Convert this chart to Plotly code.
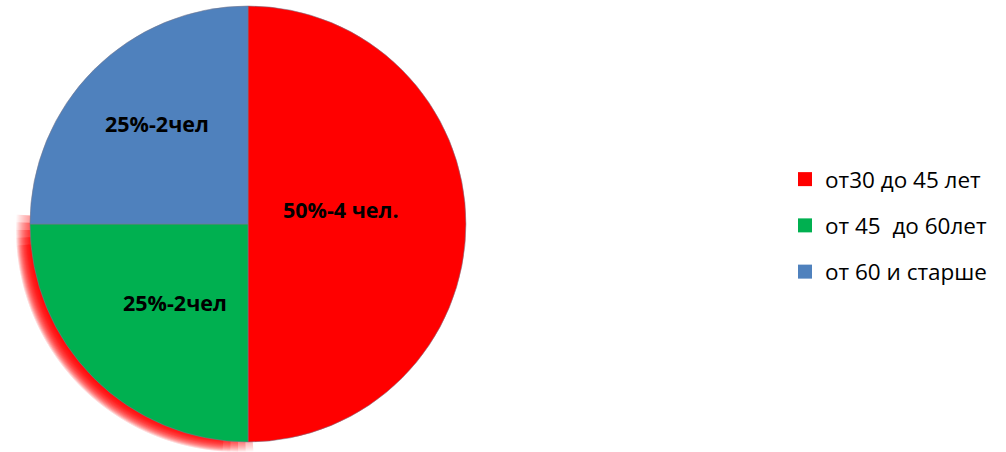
import plotly.graph_objects as go

categories = ["от30 до 45 лет", "от 45  до 60лет", "от 60 и старше"]
values = [4, 2, 2]
slice_labels = ["50%-4 чел.", "25%-2чел", "25%-2чел"]
colors = ["#FF0000", "#00B050", "#4F81BD"]

W, H = 1006, 452
cx, cy, r = 248, 224, 218

def dom(cx, cy, r):
    x0, x1 = max(0, (cx - r) / W), min(1, (cx + r) / W)
    y0, y1 = max(0, 1 - (cy + r) / H), min(1, 1 - (cy - r) / H)
    return dict(x=[x0, x1], y=[y0, y1])

fig = go.Figure()

# soft red glow behind the lower-left slice
glow_cx, glow_cy = cx - 10, cy + 6
for rr in range(208, 223):
    for rot in [-4, -2, 0, 2, 4]:
        fig.add_trace(go.Pie(
            values=values, labels=categories, sort=False, direction="clockwise", rotation=rot,
            marker=dict(colors=["rgba(0,0,0,0)", "rgba(255,0,0,0.032)", "rgba(0,0,0,0)"], line=dict(width=0)),
            textinfo="none", hoverinfo="skip", showlegend=False,
            domain=dom(glow_cx, glow_cy, rr),
        ))

fig.add_trace(go.Pie(
    values=values, labels=categories, sort=False, direction="clockwise", rotation=0,
    marker=dict(colors=colors, line=dict(color="rgba(120,120,140,0.7)", width=0.8)),
    textinfo="none", hoverinfo="label+value", showlegend=False,
    domain=dom(cx, cy, r),
))

# legend entries
for i, (c, col) in enumerate(zip(categories, colors)):
    fig.add_trace(go.Scatter(
        x=[None], y=[None], mode="markers", name=c, legendgroup=f"g{i}",
        marker=dict(symbol="square", size=14, color=col),
    ))

label_pos = [(341, 210), (175, 302), (157, 124)]
for txt, (px, py) in zip(slice_labels, label_pos):
    fig.add_annotation(x=px / W, y=1 - py / H, xref="paper", yref="paper",
                       xanchor="center", yanchor="middle",
                       text=f"<b>{txt}</b>", showarrow=False,
                       font=dict(family="Open Sans", size=21.5, color="black"))

fig.update_layout(
    width=W, height=H, margin=dict(l=0, r=0, t=0, b=0),
    paper_bgcolor="white", plot_bgcolor="white",
    xaxis=dict(visible=False), yaxis=dict(visible=False),
    legend=dict(x=785 / W, y=1 - 158 / H, xanchor="left", yanchor="top",
                traceorder="grouped", tracegroupgap=14,
                font=dict(family="Open Sans", size=22.5, color="black"),
                itemclick=False),
)

fig.write_html("out.html", post_script="document.body.style.margin='0';",
               config={"displayModeBar": False})
